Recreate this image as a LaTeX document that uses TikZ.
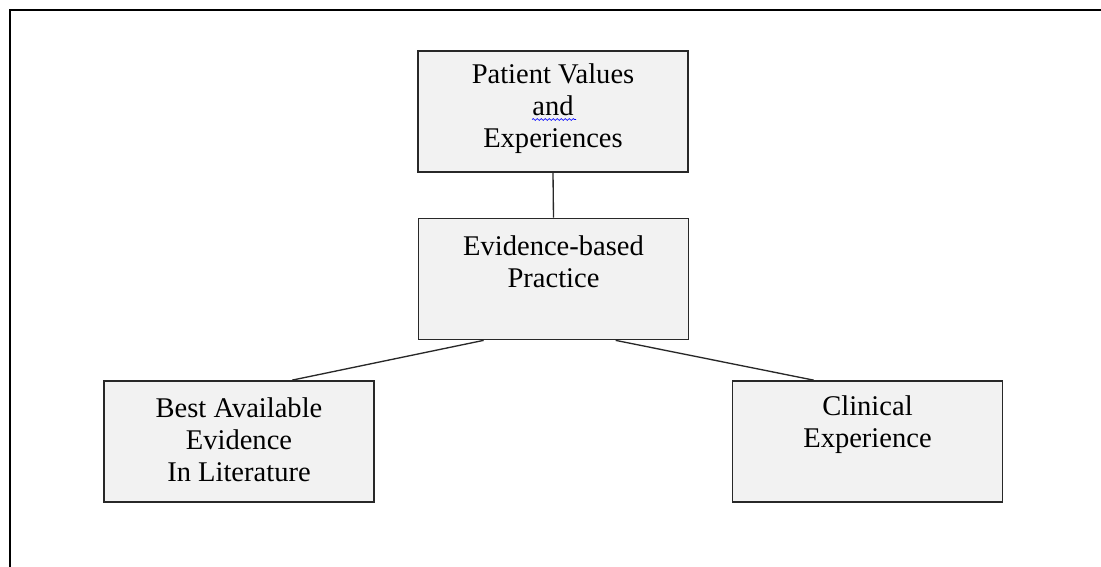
\documentclass[tikz,border=0pt]{standalone}
\usepackage{fontspec}
\setmainfont{Liberation Serif}
\usetikzlibrary{calc,decorations.pathmorphing}
\definecolor{boxfill}{RGB}{242,242,242}
\definecolor{boxline}{RGB}{40,40,40}
\begin{document}
\begin{tikzpicture}[x=0.75pt,y=-0.75pt,
  box/.style={draw=boxline,line width=1.3pt,fill=boxfill,rectangle,inner sep=0pt,
    minimum width=202.5pt,minimum height=90.75pt},
  label/.style={anchor=north,inner sep=0pt,align=center,
    font={\fontsize{21.4pt}{24pt}\selectfont}},
  link/.style={draw=boxline,line width=1pt}]
  \useasboundingbox (0,0) rectangle (1101,567);
  % page frame: top and left edges
  \draw[line width=1.6pt] (10,567) -- (10,10) -- (1101,10);

  % boxes
  \node[box] (pv)  at (553,111.5) {};
  \node[box] (ebp) at (553.5,279) {};
  \node[box] (bae) at (239,441.5) {};
  \node[box] (ce)  at (867.5,441.5) {};

  % texts
  \node[label] (pvtext)  at (553,63.5)  {Patient Values\\and\\Experiences};
  \node[label] (ebptext) at (553.5,235.5) {Evidence-based\\Practice};
  \node[label] (baetext) at (239,397.5) {Best Available\\Evidence\\In Literature};
  \node[label] (cetext)  at (867.5,395.5) {Clinical\\Experience};

  % spell-check squiggle under "and"
  \draw[blue,line width=0.5pt,decorate,decoration={snake,amplitude=0.7pt,segment length=3pt}]
    ($(pvtext.north)+(-21,56)$) -- ++(44,0);

  % connectors
  \draw[link] (pv.south) -- (ebp.north);
  \draw[link] ($(ebp.south west)+(66,0)$) -- ($(bae.north west)+(189,0)$);
  \draw[link] ($(ebp.south west)+(198,0)$) -- ($(ce.north west)+(82,0)$);
\end{tikzpicture}
\end{document}
